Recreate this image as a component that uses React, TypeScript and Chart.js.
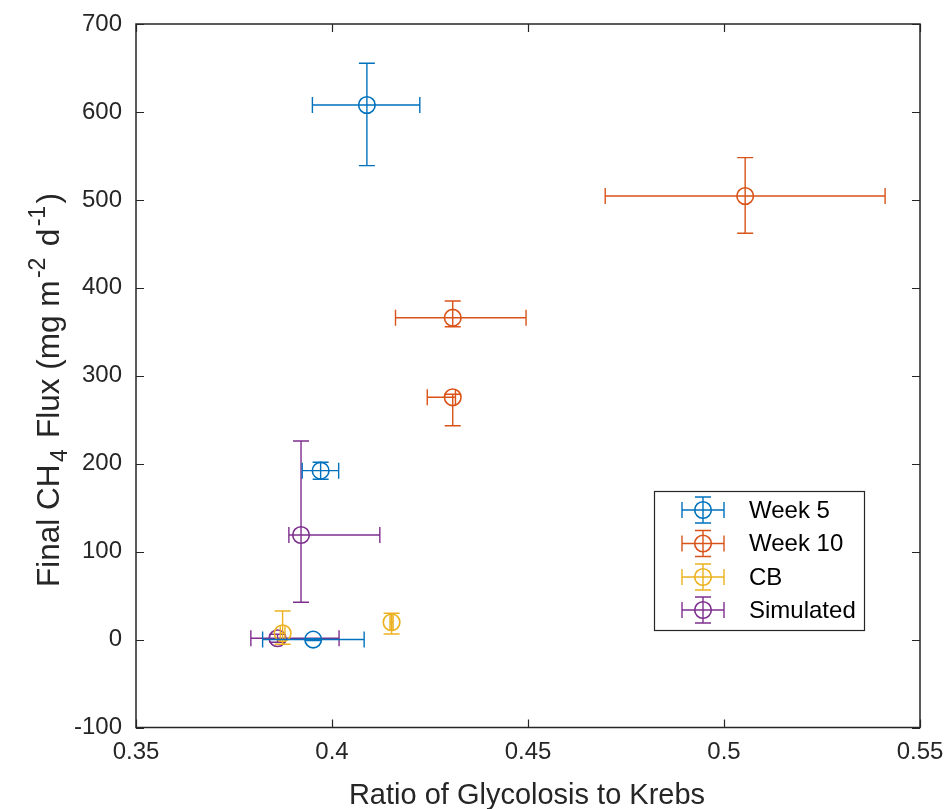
import React, { useEffect, useRef } from "react";
import { Chart, registerables } from "chart.js";

Chart.register(...registerables);

// Series: ratio of glycolysis to Krebs (x) vs final CH4 flux (y), with asymmetric error ranges
const seriesNames = ["Week 5", "Week 10", "CB", "Simulated"];
const seriesColors = ["#0072BD", "#D95319", "#EDB120", "#7E2F8E"];

const week5X = [0.4089, 0.3971, 0.3952];
const week5Y = [607.9, 192.1, 0.0];
const week5XLow = [0.395, 0.3924, 0.3823];
const week5XHigh = [0.4224, 0.4017, 0.4082];
const week5YLow = [538.9, 182.3, -1];
const week5YHigh = [655.3, 201.6, 1];

const week10X = [0.5054, 0.4308, 0.4308];
const week10Y = [504.4, 366.0, 275.5];
const week10XLow = [0.4697, 0.4162, 0.4243];
const week10XHigh = [0.5411, 0.4495, 0.4315];
const week10YLow = [462.0, 355.8, 243.2];
const week10YHigh = [548.0, 385.0, 279.0];

const cbX = [0.3874, 0.4152];
const cbY = [7.2, 19.7];
const cbXLow = [0.3868, 0.4148];
const cbXHigh = [0.388, 0.4156];
const cbYLow = [-5.4, 6.4];
const cbYHigh = [32.5, 29.9];

const simX = [0.3921, 0.3861];
const simY = [118.9, 1.5];
const simXLow = [0.389, 0.3793];
const simXHigh = [0.4122, 0.4018];
const simYLow = [42.4, -3];
const simYHigh = [225.8, 6];

const xTicks = [0.35, 0.4, 0.45, 0.5, 0.55];
const yTicks = [-100, 0, 100, 200, 300, 400, 500, 600, 700];

const xTitle = "Ratio of Glycolosis to Krebs";
// [text, shift] where shift -1 = subscript, +1 = superscript
const yTitleParts: [string, number][] = [
  ["Final CH", 0],
  ["4", -1],
  [" Flux (mg m", 0],
  ["-2", 1],
  [" d", 0],
  ["-1", 1],
  [")", 0],
];

const FONT = "'Liberation Sans', Arial, Helvetica, sans-serif";
const AXIS_COLOR = "#262626";
const TICK_SIZE = 24;
const XLABEL_SIZE = 29;
const YLABEL_SIZE = 31.5;
const LEGEND_SIZE = 24;
const MARKER_R = 8.3;
const CAP = 8;

type Pt = { x: number; y: number; xl: number; xh: number; yl: number; yh: number };

function zipSeries(x: number[], y: number[], xl: number[], xh: number[], yl: number[], yh: number[]): Pt[] {
  return x.map((v, i) => ({ x: v, y: y[i], xl: xl[i], xh: xh[i], yl: yl[i], yh: yh[i] }));
}

const allSeries: Pt[][] = [
  zipSeries(week5X, week5Y, week5XLow, week5XHigh, week5YLow, week5YHigh),
  zipSeries(week10X, week10Y, week10XLow, week10XHigh, week10YLow, week10YHigh),
  zipSeries(cbX, cbY, cbXLow, cbXHigh, cbYLow, cbYHigh),
  zipSeries(simX, simY, simXLow, simXHigh, simYLow, simYHigh),
];

function drawGlyph(ctx: CanvasRenderingContext2D, cx: number, cy: number, color: string, hw: number, hh: number) {
  ctx.save();
  ctx.strokeStyle = color;
  ctx.lineWidth = 1.4;
  ctx.beginPath();
  ctx.moveTo(cx - hw, cy);
  ctx.lineTo(cx + hw, cy);
  ctx.moveTo(cx - hw, cy - CAP);
  ctx.lineTo(cx - hw, cy + CAP);
  ctx.moveTo(cx + hw, cy - CAP);
  ctx.lineTo(cx + hw, cy + CAP);
  ctx.moveTo(cx, cy - hh);
  ctx.lineTo(cx, cy + hh);
  ctx.moveTo(cx - CAP, cy - hh);
  ctx.lineTo(cx + CAP, cy - hh);
  ctx.moveTo(cx - CAP, cy + hh);
  ctx.lineTo(cx + CAP, cy + hh);
  ctx.stroke();
  ctx.lineWidth = 1.6;
  ctx.beginPath();
  ctx.arc(cx, cy, MARKER_R, 0, Math.PI * 2);
  ctx.stroke();
  ctx.restore();
}

const errorBarPlugin = {
  id: "errorBars",
  beforeDatasetDraw(chart: any, args: any) {
    const { ctx, scales } = chart;
    const xs = scales.x;
    const ys = scales.y;
    const pts = allSeries[args.index];
    if (!pts) return;
    ctx.save();
    ctx.strokeStyle = seriesColors[args.index];
    ctx.lineWidth = 1.4;
    ctx.beginPath();
    for (const p of pts) {
      const px = xs.getPixelForValue(p.x);
      const py = ys.getPixelForValue(p.y);
      const xl = xs.getPixelForValue(p.xl);
      const xh = xs.getPixelForValue(p.xh);
      const yl = ys.getPixelForValue(p.yl);
      const yh = ys.getPixelForValue(p.yh);
      // vertical bar + caps
      ctx.moveTo(px, yl);
      ctx.lineTo(px, yh);
      ctx.moveTo(px - CAP, yl);
      ctx.lineTo(px + CAP, yl);
      ctx.moveTo(px - CAP, yh);
      ctx.lineTo(px + CAP, yh);
      // horizontal bar + caps
      ctx.moveTo(xl, py);
      ctx.lineTo(xh, py);
      ctx.moveTo(xl, py - CAP);
      ctx.lineTo(xl, py + CAP);
      ctx.moveTo(xh, py - CAP);
      ctx.lineTo(xh, py + CAP);
    }
    ctx.stroke();
    ctx.restore();
  },
  afterDraw(chart: any) {
    const { ctx, chartArea, scales } = chart;
    const { left, right, top, bottom } = chartArea;
    ctx.save();
    // axes box
    ctx.strokeStyle = AXIS_COLOR;
    ctx.lineWidth = 1.5;
    ctx.strokeRect(left, top, right - left, bottom - top);
    // inward ticks on all four sides
    const tl = 8;
    ctx.lineWidth = 1.2;
    ctx.beginPath();
    for (const v of xTicks) {
      const px = Math.round(scales.x.getPixelForValue(v)) + 0.5;
      ctx.moveTo(px, bottom);
      ctx.lineTo(px, bottom - tl);
      ctx.moveTo(px, top);
      ctx.lineTo(px, top + tl);
    }
    for (const v of yTicks) {
      const py = Math.round(scales.y.getPixelForValue(v)) + 0.5;
      ctx.moveTo(left, py);
      ctx.lineTo(left + tl, py);
      ctx.moveTo(right, py);
      ctx.lineTo(right - tl, py);
    }
    ctx.stroke();

    // x title
    ctx.fillStyle = AXIS_COLOR;
    ctx.font = `${XLABEL_SIZE}px ${FONT}`;
    ctx.textAlign = "center";
    ctx.textBaseline = "alphabetic";
    ctx.fillText(xTitle, (left + right) / 2 - 1, 804);

    // y title with sub/superscripts
    const small = Math.round(YLABEL_SIZE * 0.72);
    const gap = 5;
    let total = 0;
    const widths = yTitleParts.map(([t, s]) => {
      ctx.font = `${s === 0 ? YLABEL_SIZE : small}px ${FONT}`;
      const w = ctx.measureText(t).width + (s === 0 ? 0 : gap);
      total += w;
      return w;
    });
    ctx.save();
    ctx.translate(59, 390);
    ctx.rotate(-Math.PI / 2);
    ctx.textAlign = "left";
    let cur = -total / 2;
    yTitleParts.forEach(([t, s], i) => {
      ctx.font = `${s === 0 ? YLABEL_SIZE : small}px ${FONT}`;
      const dy = s === -1 ? 8 : s === 1 ? -14 : 0;
      ctx.fillText(t, cur + (s === 0 ? 0 : gap / 2), dy);
      cur += widths[i];
    });
    ctx.restore();

    // legend
    const bx = 654, by = 491, bw = 210, bh = 139;
    ctx.fillStyle = "#ffffff";
    ctx.fillRect(bx, by, bw, bh);
    ctx.strokeStyle = AXIS_COLOR;
    ctx.lineWidth = 1.2;
    ctx.strokeRect(bx + 0.5, by + 0.5, bw, bh);
    const rowY = [510, 543.5, 577, 610];
    seriesNames.forEach((name, i) => {
      drawGlyph(ctx, 703, rowY[i], seriesColors[i], 21, 13);
      ctx.fillStyle = "#000000";
      ctx.font = `${LEGEND_SIZE}px ${FONT}`;
      ctx.textAlign = "left";
      ctx.textBaseline = "middle";
      ctx.fillText(name, 749, rowY[i] + 1);
    });
    ctx.restore();
  },
};

export default function App() {
  const ref = useRef<HTMLCanvasElement | null>(null);

  useEffect(() => {
    if (!ref.current) return;
    const chart = new Chart(ref.current, {
      type: "scatter",
      data: {
        datasets: allSeries.map((pts, i) => ({
          label: seriesNames[i],
          data: pts.map((p) => ({ x: p.x, y: p.y })),
          borderColor: seriesColors[i],
          backgroundColor: "rgba(0,0,0,0)",
          pointRadius: MARKER_R,
          pointBorderWidth: 1.6,
          pointHoverRadius: MARKER_R,
          pointStyle: "circle",
        })),
      },
      options: {
        animation: false,
        responsive: false,
        devicePixelRatio: 1,
        layout: { padding: { left: 0, top: 24, right: 29, bottom: 0 } },
        plugins: { legend: { display: false }, tooltip: { enabled: false } },
        scales: {
          x: {
            type: "linear",
            min: 0.35,
            max: 0.55,
            afterBuildTicks: (s: any) => {
              s.ticks = xTicks.map((v) => ({ value: v }));
            },
            afterFit: (s: any) => {
              s.height = 81.5;
              s.paddingLeft = 0;
              s.paddingRight = 0;
            },
            grid: { display: false, drawTicks: false },
            border: { display: false },
            ticks: {
              padding: 10,
              color: AXIS_COLOR,
              font: { family: FONT, size: TICK_SIZE },
              maxRotation: 0,
              autoSkip: false,
              callback: (v: any) => String(Math.round(Number(v) * 100) / 100),
            },
          },
          y: {
            type: "linear",
            min: -100,
            max: 700,
            afterBuildTicks: (s: any) => {
              s.ticks = yTicks.map((v) => ({ value: v }));
            },
            afterFit: (s: any) => {
              s.width = 136;
              s.paddingTop = 0;
              s.paddingBottom = 0;
            },
            grid: { display: false, drawTicks: false },
            border: { display: false },
            ticks: {
              padding: 14,
              color: AXIS_COLOR,
              font: { family: FONT, size: TICK_SIZE },
              autoSkip: false,
              callback: (v: any) => String(v),
            },
          },
        },
      },
      plugins: [errorBarPlugin],
    });
    return () => chart.destroy();
  }, []);

  return (
    <div style={{ position: "absolute", left: 0, top: 0, width: 949, height: 809, background: "#ffffff" }}>
      <canvas ref={ref} width={949} height={809} style={{ display: "block" }} />
    </div>
  );
}
